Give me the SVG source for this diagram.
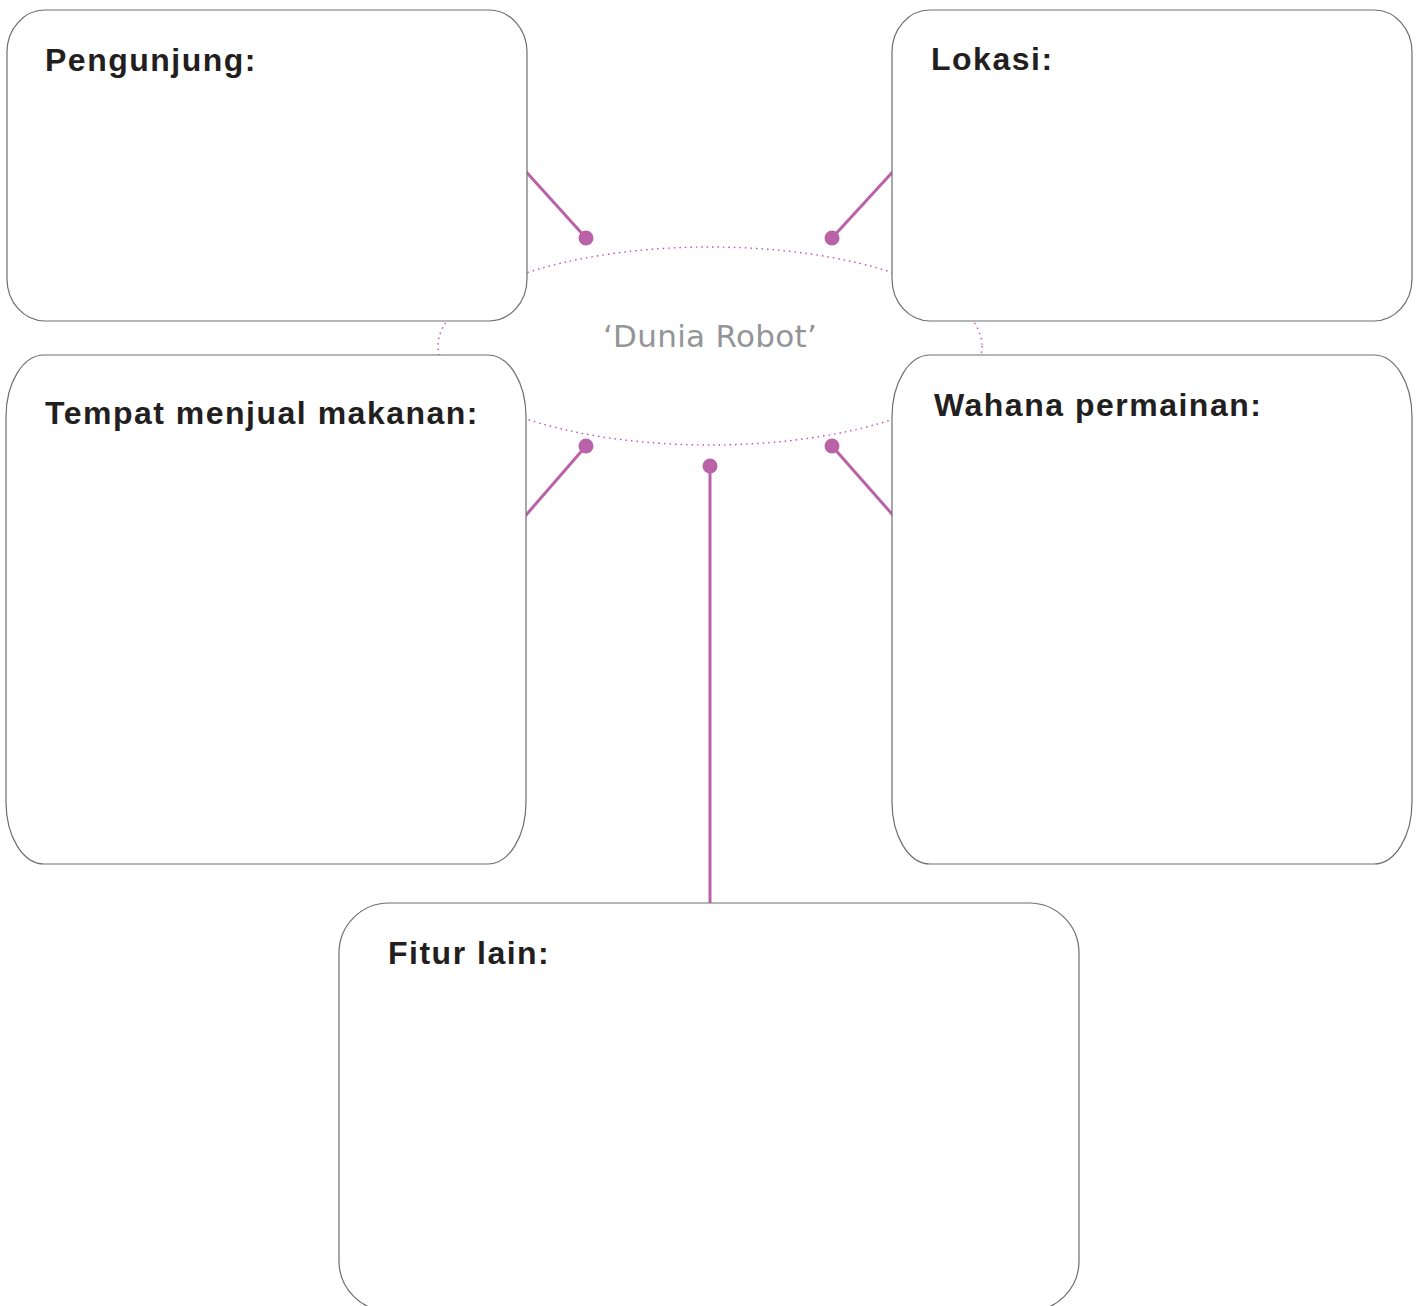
<svg xmlns="http://www.w3.org/2000/svg" width="1419" height="1306" viewBox="0 0 1419 1306">
<style>
.box{fill:#ffffff;stroke:#6d6e71;stroke-width:1.2}
.lbl{font-family:"Liberation Sans",Arial,sans-serif;font-weight:bold;font-size:32px;letter-spacing:1.5px;fill:#231f20}
.con{stroke:#b962a8;stroke-width:3;fill:none}
.dot{fill:#b962a8}
.ring{fill:none;stroke:#c050a8;stroke-width:1.4;stroke-dasharray:1.5 4}
</style>
<rect width="1419" height="1306" fill="#ffffff"/>
<g id="centre">
<ellipse class="ring" cx="710" cy="346" rx="272" ry="99"/>
</g>
<g id="connectors">
<line class="con" x1="520" y1="165" x2="586" y2="238"/>
<circle class="dot" cx="586" cy="238" r="7.5"/>
<line class="con" x1="899" y1="165" x2="832" y2="238"/>
<circle class="dot" cx="832" cy="238" r="7.5"/>
<line class="con" x1="520" y1="522" x2="586" y2="446"/>
<circle class="dot" cx="586" cy="446" r="7.5"/>
<line class="con" x1="899" y1="522" x2="832" y2="446"/>
<circle class="dot" cx="832" cy="446" r="7.5"/>
<line class="con" x1="710" y1="466" x2="710" y2="906"/>
<circle class="dot" cx="710" cy="466" r="7.5"/>
</g>
<g id="pengunjung">
<rect class="box" x="7" y="10" width="520" height="311" rx="38" ry="42"/>
<text class="lbl" x="45" y="71">Pengunjung:</text>
</g>
<g id="lokasi">
<rect class="box" x="892" y="10" width="520" height="311" rx="38" ry="42"/>
<text class="lbl" x="931" y="70">Lokasi:</text>
</g>
<g id="tempat">
<rect class="box" x="6" y="355" width="520" height="509" rx="38" ry="62"/>
<text class="lbl" x="45" y="424">Tempat menjual makanan:</text>
</g>
<g id="wahana">
<rect class="box" x="892" y="355" width="520" height="509" rx="38" ry="62"/>
<text class="lbl" x="934" y="416">Wahana permainan:</text>
</g>
<g id="fitur">
<rect class="box" x="339" y="903" width="740" height="408" rx="50" ry="50"/>
<text class="lbl" x="388" y="964">Fitur lain:</text>
</g>
<text x="710" y="347" text-anchor="middle" font-family="'DejaVu Sans',Verdana,sans-serif" font-size="31" letter-spacing="0.3" fill="#939598">‘Dunia Robot’</text>
</svg>
